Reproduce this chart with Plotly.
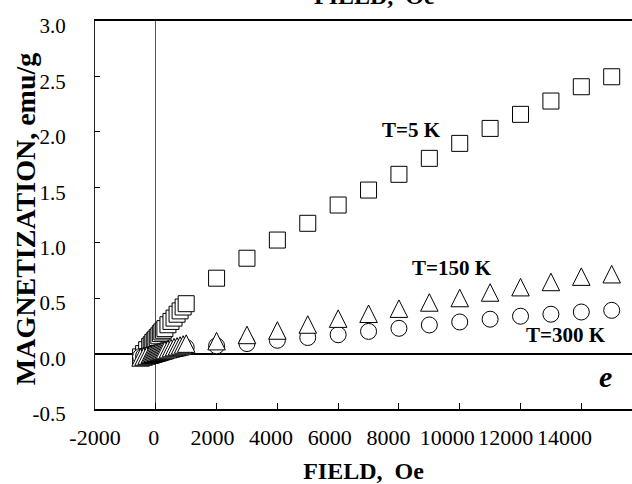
import plotly.graph_objects as go

# Field sweeps in Oe
field_low = [-500, -400, -300, -200, -150, -100, -50, 0, 50, 100, 150,
             200, 250, 300, 400, 500, 600, 700, 800, 900, 1000]
field_high = [2000, 3000, 4000, 5000, 6000, 7000, 8000, 9000, 10000,
              11000, 12000, 13000, 14000, 15000]

# Magnetization in emu/g
m_5k_low = [-0.03, 0.0, 0.035, 0.065, 0.08, 0.1, 0.115, 0.13, 0.145, 0.16, 0.18,
            0.195, 0.21, 0.225, 0.26, 0.29, 0.32, 0.355, 0.385, 0.42, 0.45]
m_5k_high = [0.68, 0.86, 1.024, 1.175, 1.34, 1.475, 1.617, 1.761, 1.896,
             2.031, 2.158, 2.278, 2.407, 2.497]

m_150k_low = [-0.035, -0.027, -0.018, -0.01, -0.005, -0.002, 0.003, 0.007, 0.011, 0.015, 0.02,
              0.024, 0.028, 0.032, 0.04, 0.05, 0.058, 0.065, 0.073, 0.082, 0.09]
m_150k_high = [0.112, 0.168, 0.208, 0.262, 0.315, 0.359, 0.405, 0.461, 0.501,
               0.551, 0.599, 0.646, 0.694, 0.716]

m_300k_low = [-0.027, -0.022, -0.016, -0.011, -0.008, -0.005, -0.003, 0.0, 0.003, 0.005, 0.008,
              0.011, 0.014, 0.016, 0.022, 0.027, 0.033, 0.038, 0.044, 0.049, 0.055]
m_300k_high = [0.07, 0.09, 0.12, 0.145, 0.17, 0.2, 0.228, 0.258, 0.285,
               0.31, 0.337, 0.355, 0.375, 0.39]

x_tick_vals = [-2000, 0, 2000, 4000, 6000, 8000, 10000, 12000, 14000]
x_tick_text = ["-2000", "0", "2000", "4000", "6000", "8000", "10000", "12000", "14000"]
y_tick_vals = [-0.5, 0.0, 0.5, 1.0, 1.5, 2.0, 2.5, 3.0]
y_tick_text = ["-0.5", "0.0", "0.5", "1.0", "1.5", "2.0", "2.5", "3.0"]

FONT = "Liberation Serif, Times New Roman, serif"
TRI = 17.5

fig = go.Figure()

fig.add_trace(go.Scatter(
    x=field_low + field_high, y=m_5k_low + m_5k_high, mode="markers",
    name="T=5 K",
    marker=dict(symbol="square", size=16, color="white",
                line=dict(color="black", width=1)),
))
fig.add_trace(go.Scatter(
    x=field_low + field_high, y=m_300k_low + m_300k_high, mode="markers",
    name="T=300 K",
    marker=dict(symbol="circle", size=16, color="white",
                line=dict(color="black", width=1)),
))
fig.add_trace(go.Scatter(
    x=field_low + field_high, y=m_150k_low + m_150k_high, mode="markers",
    name="T=150 K",
    marker=dict(symbol="arrow-down", size=TRI, color="white", angle=180,
                standoff=TRI / 2, line=dict(color="black", width=1)),
))
# carrier for the tick-label axis
fig.add_trace(go.Scatter(x=[None], y=[None], xaxis="x2", yaxis="y",
                         showlegend=False, hoverinfo="skip"))

fig.update_layout(
    width=632, height=484,
    margin=dict(l=95, r=0, t=21, b=75),
    paper_bgcolor="white", plot_bgcolor="white",
    showlegend=False,
    font=dict(family=FONT, color="black"),
    xaxis=dict(
        range=[-2000, 15668], showgrid=False,
        showline=True, mirror=True, linecolor="black", linewidth=1.5,
        ticks="inside", ticklen=6, tickcolor="black", tickwidth=1,
        tickvals=x_tick_vals, showticklabels=False,
        zeroline=True, zerolinecolor="#555", zerolinewidth=1,
    ),
    xaxis2=dict(
        overlaying="x", anchor="y", side="bottom",
        range=[-2000, 16300], showgrid=False, showline=False, zeroline=False,
        ticks="", tickvals=x_tick_vals, ticktext=x_tick_text,
        tickfont=dict(family=FONT, size=22, color="black"),
        ticklabelstandoff=13,
        title=dict(text="<b>FIELD,\u00a0 Oe</b>", font=dict(family=FONT, size=24),
                   standoff=13),
    ),
    yaxis=dict(
        range=[-0.5, 3.0], showgrid=False,
        showline=True, linecolor="#222", linewidth=1,
        ticks="inside", ticklen=5, tickcolor="black", tickwidth=1,
        tickvals=y_tick_vals, ticktext=y_tick_text,
        tickfont=dict(family=FONT, size=21, color="black"),
        ticklabelshift=5, ticklabelstandoff=24,
        zeroline=True, zerolinecolor="black", zerolinewidth=1.5,
    ),
    annotations=[
        dict(text="<b>MAGNETIZATION, emu/g</b>", x=-0.128, y=0.49,
             xref="paper", yref="paper", textangle=-90, showarrow=False,
             xanchor="center", yanchor="middle",
             font=dict(family=FONT, size=28)),
        dict(text="<b>T=5 K</b>", x=8424, y=2.016, xref="x", yref="y",
             showarrow=False, font=dict(family=FONT, size=21)),
        dict(text="<b>T=150 K</b>", x=9740, y=0.776, xref="x", yref="y",
             showarrow=False, font=dict(family=FONT, size=21)),
        dict(text="<b>T=300 K</b>", x=13508, y=0.172, xref="x", yref="y",
             showarrow=False, font=dict(family=FONT, size=21)),
        dict(text="<b><i>e</i></b>", x=14808, y=-0.211, xref="x", yref="y",
             showarrow=False, font=dict(family=FONT, size=30)),
        dict(text="<b>FIELD,\u00a0 Oe</b>", x=0.521, y=1.0258, xref="paper", yref="paper",
             yanchor="bottom", showarrow=False, font=dict(family=FONT, size=24)),
    ],
)

fig.write_html("out.html")
